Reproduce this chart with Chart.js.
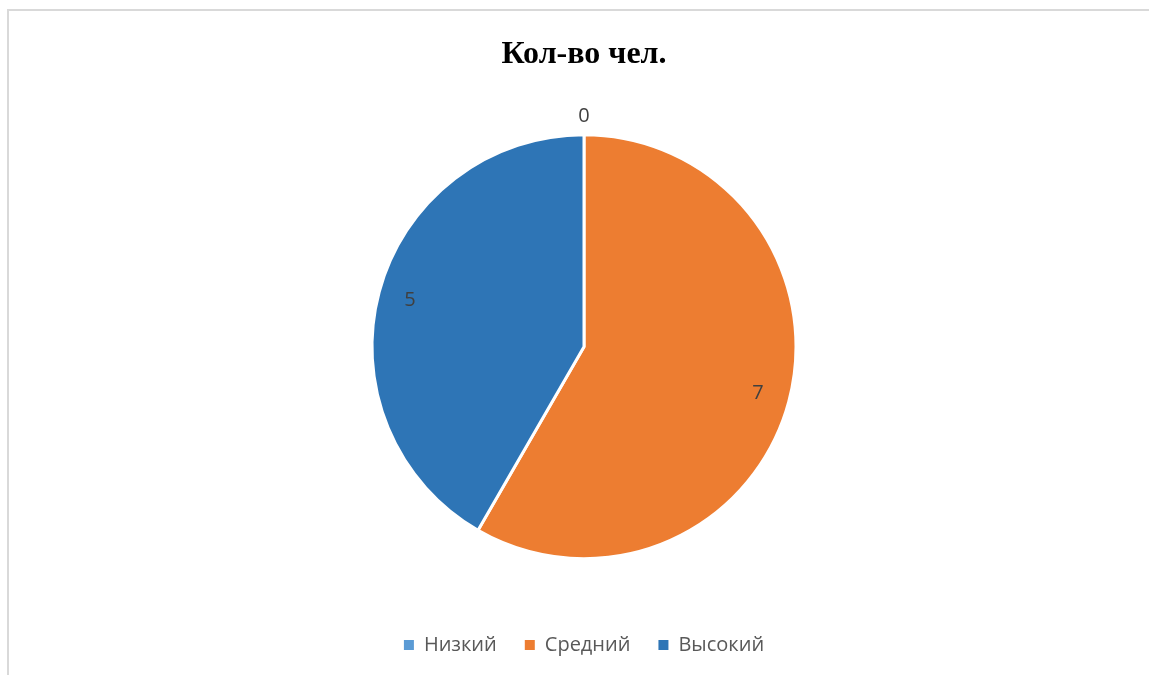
<!DOCTYPE html>
<html>
<head>
<meta charset="utf-8">
<script src="https://cdn.jsdelivr.net/npm/chart.js@4.4.1/dist/chart.umd.min.js"></script>
<style>
  html, body { margin: 0; padding: 0; background: #fff; }
  #wrap { width: 1149px; height: 675px; }
</style>
</head>
<body>
<div id="wrap"><canvas id="pie-chart"></canvas></div>
<script>
const labels = ['Низкий', 'Средний', 'Высокий'];
const values = [0, 7, 5];
const colors = ['#5B9BD5', '#ED7D31', '#2E75B6'];

// рамка области диаграммы как в Excel
const frame = {
    id: 'frame',
    beforeDraw(chart) {
        const ctx = chart.ctx;
        ctx.save();
        ctx.strokeStyle = '#d9d9d9';
        ctx.lineWidth = 2;
        ctx.strokeRect(8, 10, 1160, 700);
        ctx.restore();
    }
};

// подписи значений
const valueLabels = {
    id: 'valueLabels',
    afterDatasetsDraw(chart) {
        const ctx = chart.ctx;
        const meta = chart.getDatasetMeta(0);
        ctx.save();
        ctx.fillStyle = '#404040';
        ctx.font = '20px "Open Sans"';
        ctx.textAlign = 'center';
        ctx.textBaseline = 'middle';
        meta.data.forEach((arc, i) => {
            const p = arc.getProps(['x', 'y', 'startAngle', 'endAngle', 'outerRadius'], true);
            const mid = (p.startAngle + p.endAngle) / 2;
            const r = values[i] === 0 ? p.outerRadius + 18 : p.outerRadius * 0.85;
            ctx.fillText(String(values[i]), p.x + Math.cos(mid) * r, p.y + Math.sin(mid) * r);
        });
        ctx.restore();
    }
};

const ctx = document.getElementById('pie-chart').getContext('2d');

new Chart(ctx, {
    type: 'pie',
    data: {
        labels: labels,
        datasets: [{
            data: values,
            backgroundColor: colors,
            borderColor: '#ffffff',
            borderWidth: 3,
            hoverOffset: 0
        }]
    },
    options: {
        responsive: true,
        maintainAspectRatio: false,
        animation: false,
        radius: 212,
        layout: {
            padding: { left: 19, right: 0, top: 0, bottom: 10 }
        },
        plugins: {
            title: {
                display: true,
                text: 'Кол-во чел.',
                color: '#000000',
                font: { family: '"Liberation Serif"', size: 32, weight: 'bold' },
                padding: { top: 36, bottom: 12 }
            },
            legend: {
                position: 'bottom',
                labels: {
                    color: '#595959',
                    font: { family: '"Open Sans"', size: 20 },
                    boxWidth: 10,
                    boxHeight: 10,
                    padding: 28,
                    generateLabels(chart) {
                        const items = Chart.overrides.pie.plugins.legend.labels.generateLabels(chart);
                        items.forEach(it => { it.lineWidth = 0; it.strokeStyle = 'rgba(0,0,0,0)'; });
                        return items;
                    }
                }
            },
            tooltip: { enabled: false }
        }
    },
    plugins: [frame, valueLabels]
});
</script>
</body>
</html>
